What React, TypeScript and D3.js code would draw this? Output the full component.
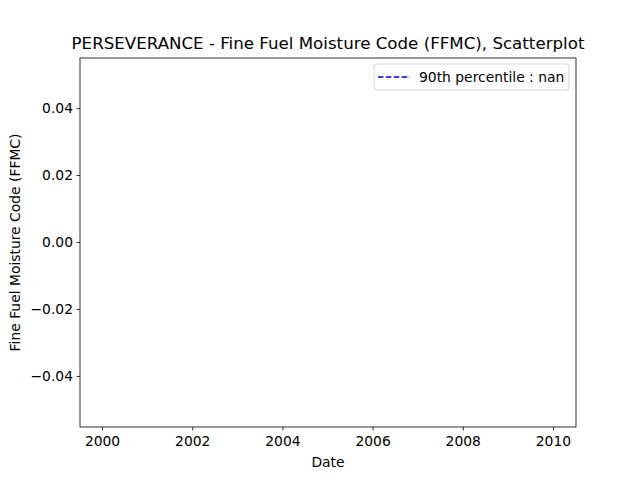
import * as d3 from "d3";

const yTicks = [-0.04, -0.02, 0.0, 0.02, 0.04];
const xTicks = [2000, 2002, 2004, 2006, 2008, 2010];
const dates: number[] = [];
const ffmc: number[] = [];
const percentileLabel = "90th percentile : nan";

const W = 640, H = 480;
const m = { left: 80, right: 576, top: 58, bottom: 427 };

export default function App() {
  const x = d3.scaleLinear().domain([1999.5, 2010.5]).range([m.left, m.right]);
  const y = d3.scaleLinear().domain([-0.0551, 0.0551]).range([m.bottom, m.top]);
  const font = "DejaVu Sans, sans-serif";
  const fs = 13.89;
  return (
    <svg width={W} height={H} style={{ position: "absolute", left: 0, top: 0, background: "#fff" }} fontFamily={font}>
      <rect width={W} height={H} fill="#fff" />
      {dates.map((d, i) => (
        <circle key={i} cx={x(d)} cy={y(ffmc[i])} r={3} fill="#1f77b4" />
      ))}
      <rect x={m.left} y={m.top} width={m.right - m.left} height={m.bottom - m.top} fill="none" stroke="#000" strokeWidth={0.8} />
      {yTicks.map((t) => (
        <g key={t}>
          <line x1={m.left - 3.5} x2={m.left} y1={y(t)} y2={y(t)} stroke="#000" strokeWidth={0.8} />
          <text x={m.left - 7} y={y(t)} dy="0.35em" textAnchor="end" fontSize={fs}>
            {t < 0 ? "\u2212" + Math.abs(t).toFixed(2) : t.toFixed(2)}
          </text>
        </g>
      ))}
      {xTicks.map((t) => (
        <g key={t}>
          <line x1={x(t)} x2={x(t)} y1={m.bottom} y2={m.bottom + 3.5} stroke="#000" strokeWidth={0.8} />
          <text x={x(t)} y={m.bottom + 19} textAnchor="middle" fontSize={fs}>{t}</text>
        </g>
      ))}
      <text x={(m.left + m.right) / 2} y={467} textAnchor="middle" fontSize={fs}>Date</text>
      <text transform={`translate(20,${(m.top + m.bottom) / 2}) rotate(-90)`} textAnchor="middle" fontSize={fs}>
        Fine Fuel Moisture Code (FFMC)
      </text>
      <text x={(m.left + m.right) / 2} y={m.top - 9} textAnchor="middle" fontSize={16.67}>
        PERSEVERANCE - Fine Fuel Moisture Code (FFMC), Scatterplot
      </text>
      <rect x={374} y={64} width={195} height={26} rx={3} fill="#fff" fillOpacity={0.8} stroke="#ccc" strokeWidth={0.8} />
      <line x1={378} x2={410} y1={77} y2={77} stroke="blue" strokeWidth={1.5} strokeDasharray="5.5,2.4" />
      <text x={419} y={77} dy="0.35em" fontSize={fs}>{percentileLabel}</text>
    </svg>
  );
}
